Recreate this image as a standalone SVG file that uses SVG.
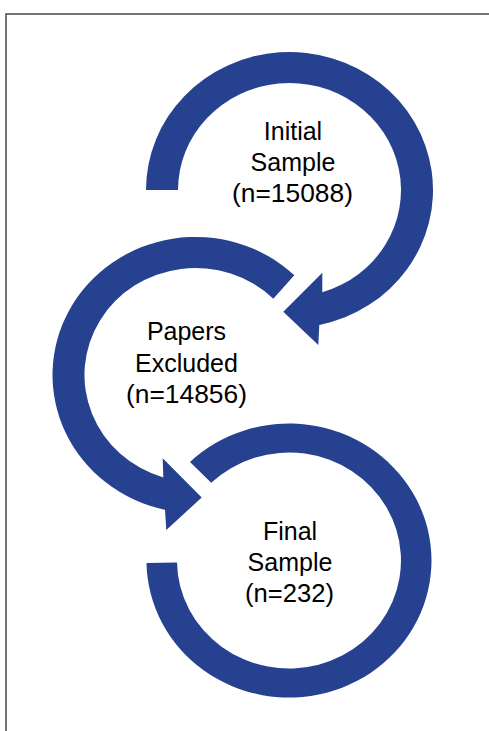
<svg xmlns="http://www.w3.org/2000/svg" width="489" height="731" viewBox="0 0 489 731">
<style>
.ring{fill:#26418f;stroke:none}
.lbl{font-family:"Liberation Sans",Arial,Helvetica,sans-serif;font-size:25px;fill:#000;text-anchor:middle}
.frame{stroke:#474747;stroke-width:1.5;fill:none}
</style>
<rect x="0" y="0" width="489" height="731" fill="#fff"/>
<g id="frame">
<path class="frame" d="M6,731 V14 H489"/>
</g>
<g id="connectors">
<path id="arrow-initial" class="ring" d="M146,190 A143.5,138 0 1 1 319.3,325 L318.3,345 L283.3,311.7 L322.3,272.7 L322.3,292.3 A111.5,107 0 1 0 178,190 Z"/>
<path id="arrow-excluded" class="ring" d="M294.3,275.2 A143,138 0 1 0 165,509.8 L166.3,530 L201.7,497.5 L162.7,458.3 L163.3,477.4 A111,107 0 1 1 273.3,298.7 Z"/>
<path id="ring-final" class="ring" d="M190,462 A142.5,137 0 1 1 146.5,563 L177,562.4 A112,108 0 1 0 211.2,482.8 Z"/>
</g>
<g id="node-initial">
<text class="lbl" x="293" y="140">Initial</text>
<text class="lbl" x="293" y="171">Sample</text>
<text class="lbl" x="292.5" y="202" textLength="121" lengthAdjust="spacingAndGlyphs">(n=15088)</text>
</g>
<g id="node-excluded">
<text class="lbl" x="186.5" y="340">Papers</text>
<text class="lbl" x="186.5" y="371.5">Excluded</text>
<text class="lbl" x="186.5" y="403" textLength="121" lengthAdjust="spacingAndGlyphs">(n=14856)</text>
</g>
<g id="node-final">
<text class="lbl" x="290" y="540">Final</text>
<text class="lbl" x="290" y="571">Sample</text>
<text class="lbl" x="289.5" y="602" textLength="89" lengthAdjust="spacingAndGlyphs">(n=232)</text>
</g>
</svg>
